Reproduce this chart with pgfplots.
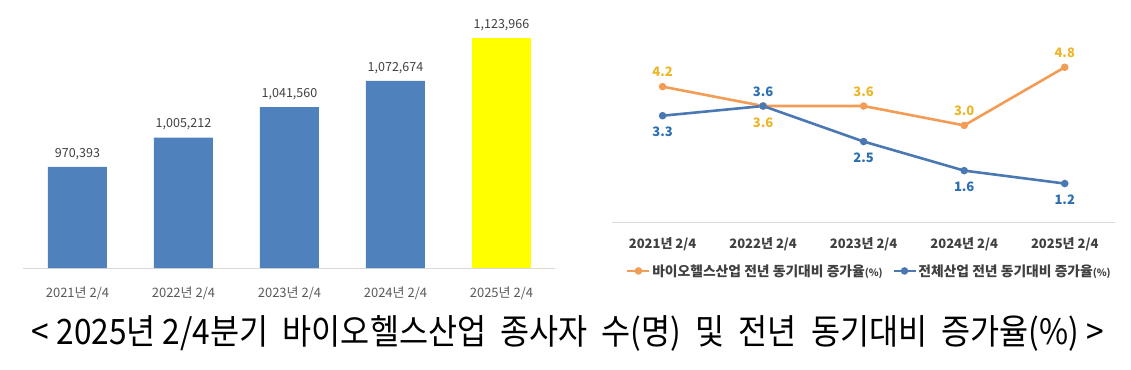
\documentclass[border=0pt]{standalone}
\usepackage{fontspec}
\setmainfont{Noto Sans CJK KR}
\usepackage{graphicx}
\usepackage{pgfplots}
\pgfplotsset{compat=1.18}
\definecolor{barblue}{HTML}{4F81BD}
\definecolor{baryel}{HTML}{FFFF00}
\definecolor{lorange}{HTML}{F39C55}
\definecolor{lblue}{HTML}{4A78B3}
\definecolor{tOrange}{HTML}{EDB628}
\definecolor{tBlue}{HTML}{2B6FB0}
\definecolor{txt}{HTML}{404040}
\definecolor{txtgray}{HTML}{595959}
\definecolor{axgray}{HTML}{D9D9D9}
\begin{document}
\begin{tikzpicture}[x=1pt,y=1pt]
\useasboundingbox (0,0) rectangle (1131,-369);
% ---------- left: bar chart ----------
\begin{axis}[
  at={(23pt,-268pt)}, anchor=south west,
  scale only axis, width=532pt, height=263pt,
  xmin=-0.514, xmax=4.505, ymin=850000, ymax=1163000,
  axis x line=bottom, axis y line=none,
  x axis line style={draw=axgray, line width=1pt, -},
  major tick length=0pt,
  xtick={0,1,2,3,4},
  xticklabels={2021년 2/4, 2022년 2/4, 2023년 2/4, 2024년 2/4, 2025년 2/4},
  xticklabel style={anchor=center, yshift=-25pt, font=\fontsize{13}{14}\selectfont, text=txtgray},
  nodes near coords,
  every node near coord/.append style={anchor=center, yshift=13pt, font=\fontsize{12.5}{14}\selectfont, text=txt},
  /pgf/number format/fixed, /pgf/number format/precision=0,
  /pgf/number format/1000 sep={,}, /pgf/number format/assume math mode=true,
]
\addplot[ybar, bar shift=0pt, bar width=59pt, fill=barblue, draw=none]
  coordinates {(0,970393) (1,1005212) (2,1041560) (3,1072674)};
\addplot[ybar, bar shift=0pt, bar width=59pt, fill=baryel, draw=none]
  coordinates {(4,1123966)};
\end{axis}
% ---------- right: line chart ----------
\begin{axis}[
  at={(612.3pt,-222.3pt)}, anchor=south west,
  scale only axis, width=502.7pt, height=193.8pt,
  xmin=-0.5, xmax=4.5, ymin=0, ymax=6,
  axis x line=bottom, axis y line=none,
  x axis line style={draw=axgray, line width=1pt, -},
  major tick length=0pt,
  xtick={0,1,2,3,4},
  xticklabels={2021년 2/4, 2022년 2/4, 2023년 2/4, 2024년 2/4, 2025년 2/4},
  xticklabel style={anchor=center, yshift=-21.7pt, font=\bfseries\fontsize{13}{14}\selectfont, text=txt},
  legend image code/.code={\draw[mark repeat=2,mark phase=2,#1] plot coordinates {(0pt,0pt) (11pt,0pt) (22pt,0pt)};},
  legend style={at={(0.511,-0.251)}, anchor=center, draw=none, fill=none,
    legend columns=2, font=\bfseries\fontsize{13.8}{15}\selectfont, text=txt,
    /tikz/every odd column/.append style={column sep=0pt},
    /tikz/every even column/.append style={column sep=8pt},
    legend cell align=left,
    nodes={inner xsep=1.5pt}},
  /pgf/number format/fixed, /pgf/number format/fixed zerofill, /pgf/number format/precision=1,
  /pgf/number format/assume math mode=true,
]
\addplot[lorange, line width=2.6pt, mark=*, mark size=2.4pt, mark options={solid, fill=lorange}]
  coordinates {(0,4.2) (1,3.6) (2,3.6) (3,3.0) (4,4.8)};
\addlegendentry{바이오헬스산업 전년 동기대비 증가율{\fontsize{10}{10}\selectfont(\%)}}
\addplot[lblue, line width=2.6pt, mark=*, mark size=2.4pt, mark options={solid, fill=lblue}]
  coordinates {(0,3.3) (1,3.6) (2,2.5) (3,1.6) (4,1.2)};
\addlegendentry{전체산업 전년 동기대비 증가율{\fontsize{10}{10}\selectfont(\%)}}
% labels
\addplot[draw=none, mark=none, forget plot, nodes near coords,
  every node near coord/.append style={anchor=center, yshift=14.5pt, text=tOrange, font=\bfseries\fontsize{13}{14}\selectfont}]
  coordinates {(0,4.2) (2,3.6) (3,3.0) (4,4.8)};
\addplot[draw=none, mark=none, forget plot, nodes near coords,
  every node near coord/.append style={anchor=center, yshift=-17pt, text=tOrange, font=\bfseries\fontsize{13}{14}\selectfont}]
  coordinates {(1,3.6)};
\addplot[draw=none, mark=none, forget plot, nodes near coords,
  every node near coord/.append style={anchor=center, yshift=14.5pt, text=tBlue, font=\bfseries\fontsize{13}{14}\selectfont}]
  coordinates {(1,3.6)};
\addplot[draw=none, mark=none, forget plot, nodes near coords,
  every node near coord/.append style={anchor=center, yshift=-16.5pt, text=tBlue, font=\bfseries\fontsize{13}{14}\selectfont}]
  coordinates {(0,3.3) (2,2.5) (3,1.6) (4,1.2)};
\end{axis}
% ---------- caption ----------
\node[anchor=center, inner sep=0pt] at (568,-333)
  {\resizebox{1072pt}{\height}{\fontsize{35}{35}\selectfont < 2025년 2/4분기 \ 바이오헬스산업 \ 종사자 \ 수(명) \ 및 \ 전년 \ 동기대비 \ 증가율(\%) >}};
\end{tikzpicture}
\end{document}
